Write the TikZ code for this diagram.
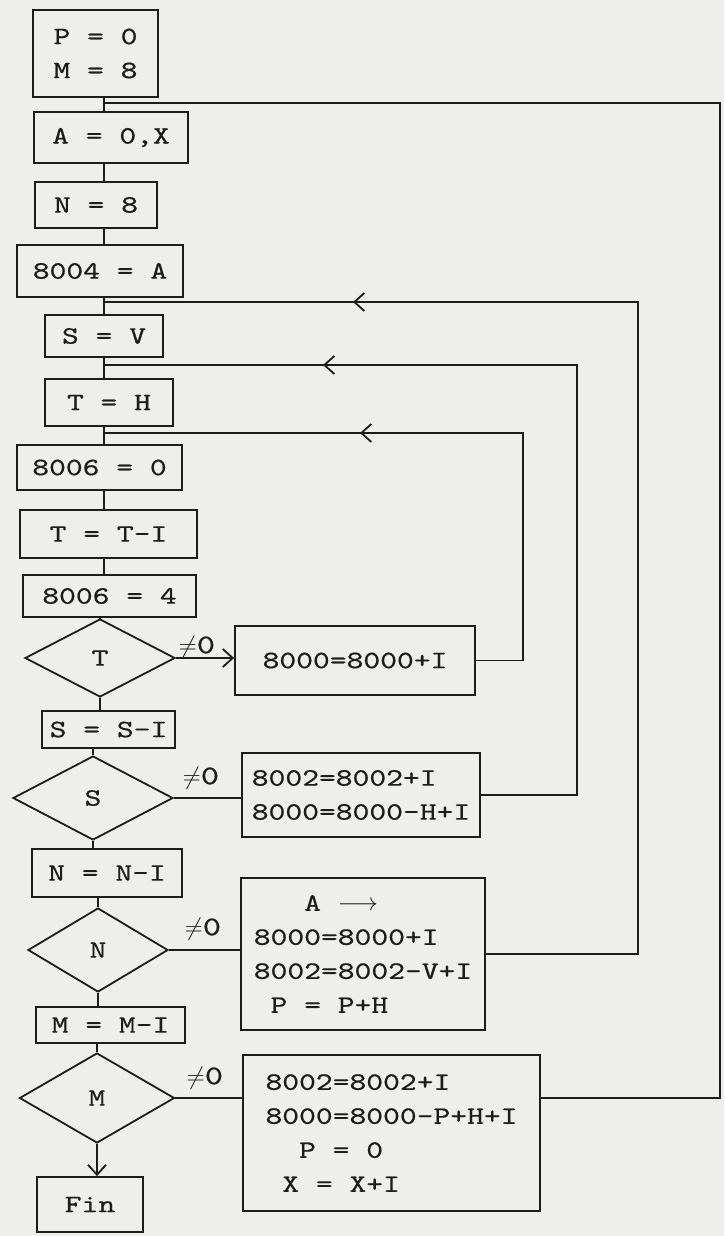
\documentclass[tikz,border=0pt]{standalone}
\usepackage{fontspec}
\setmonofont{lmmono10-regular.otf}[FakeStretch=1.28,FakeBold=0.6]
\usetikzlibrary{shapes.geometric,arrows.meta,decorations.markings}
\definecolor{paper}{RGB}{238,238,236}
\definecolor{ink}{RGB}{28,28,28}
\begin{document}
\begin{tikzpicture}[x=1pt,y=-1pt,
  every node/.style={font=\ttfamily\fontsize{25}{34}\selectfont, text=ink},
  box/.style={draw=ink, line width=1.8pt, inner sep=0pt, align=center},
  rbox/.style={draw=ink, line width=1.8pt, inner sep=0pt, align=left},
  dia/.style={draw=ink, line width=1.8pt, diamond, inner sep=0pt},
  conn/.style={draw=ink, line width=1.8pt},
  arr/.style={conn, -{Straight Barb[length=10pt,width=18pt]}},
  midarr/.style={postaction={decorate,decoration={markings,mark=at position #1 with {\arrow{Straight Barb[length=10pt,width=18pt]}}}}},
  lbl/.style={inner sep=0pt, font=\ttfamily\fontsize{27}{30}\selectfont}
]
\fill[paper] (0,0) rectangle (724,1236);
\useasboundingbox (0,0) rectangle (724,1236);

% main column
\node[box, minimum width=125, minimum height=87] (PM) at (95.5,53.5) {P = 0\\M = 8};
\node[box, minimum width=154, minimum height=51] (AX) at (111,137.5) {A = 0,X};
\node[box, minimum width=122, minimum height=46] (N8) at (96,205) {N = 8};
\node[box, minimum width=166, minimum height=52] (BA) at (100,271) {8004 = A};
\node[box, minimum width=118, minimum height=42] (SV) at (104,336) {S = V};
\node[box, minimum width=128, minimum height=47] (TH) at (109,402.5) {T = H};
\node[box, minimum width=165, minimum height=45] (BZ) at (99.5,467.5) {8006 = 0};
\node[box, minimum width=177, minimum height=48] (TTI) at (108.5,534) {T = T-I};
\node[box, minimum width=173, minimum height=42] (BF) at (109.5,596) {8006 = 4};
\node[dia, minimum width=150, minimum height=78] (T) at (100,658) {T};
\node[box, minimum width=133, minimum height=37] (SSI) at (108.5,729.5) {S = S-I};
\node[dia, minimum width=160, minimum height=84] (S) at (93,798) {S};
\node[box, minimum width=150, minimum height=48] (NNI) at (107,873) {N = N-I};
\node[dia, minimum width=140, minimum height=84] (N) at (98,950) {N};
\node[box, minimum width=149, minimum height=36] (MMI) at (110.5,1025) {M = M-I};
\node[dia, minimum width=155, minimum height=90] (M) at (97,1098) {M};
\node[box, minimum width=106, minimum height=55] (Fin) at (90,1204.5) {Fin};

% right boxes
\node[rbox, minimum width=240, minimum height=69] (R1) at (355,660.5) {8000=8000+I};
\node[rbox, minimum width=238, minimum height=84] (R2) at (361,795) {8002=8002+I\\8000=8000-H+I};
\node[rbox, minimum width=244, minimum height=152] (R3) at (363,954) {\hphantom{000}A~$\longrightarrow$\\8000=8000+I\\8002=8002-V+I\\\hphantom{0}P = P+H};
\node[rbox, minimum width=297, minimum height=156] (R4) at (391.5,1133) {8002=8002+I\\8000=8000-P+H+I\\\hphantom{00}P = 0\\\hphantom{0}X = X+I};

% labels
\node[lbl] (L1) at (197,647) {$\neq$0};
\node[lbl] (L2) at (201,778) {$\neq$0};
\node[lbl] (L3) at (203,929) {$\neq$0};
\node[lbl] (L4) at (205,1078) {$\neq$0};

% spine
\coordinate (sp) at (104,0);
\draw[conn] (PM.south -| sp) -- (AX.north -| sp);
\draw[conn] (AX.south -| sp) -- (N8.north -| sp);
\draw[conn] (N8.south -| sp) -- (BA.north -| sp);
\draw[conn] (BA.south -| sp) -- (SV.north -| sp);
\draw[conn] (SV.south -| sp) -- (TH.north -| sp);
\draw[conn] (TH.south -| sp) -- (BZ.north -| sp);
\draw[conn] (BZ.south -| sp) -- (TTI.north -| sp);
\draw[conn] (TTI.south -| sp) -- (BF.north -| sp);
\draw[conn] (BF.south -| T.north) -- (T.north);
\draw[conn] (T.south) -- (T.south |- SSI.north);
\draw[conn] (SSI.south -| S.north) -- (S.north);
\draw[conn] (S.south) -- (S.south |- NNI.north);
\draw[conn] (NNI.south -| N.north) -- (N.north);
\draw[conn] (N.south) -- (N.south |- MMI.north);
\draw[conn] (MMI.south -| M.north) -- (M.north);
\draw[arr] (M.south) -- (M.south |- Fin.north);

% branches
\draw[arr] (T.east) -- (T.east -| R1.west);
\draw[conn] (S.east) -- (S.east -| R2.west);
\draw[conn] (N.east) -- (N.east -| R3.west);
\draw[conn] (M.east) -- (M.east -| R4.west);

% loops
\coordinate (c1) at (523,433); \coordinate (j1) at (104,433);
\coordinate (c2) at (577,365); \coordinate (j2) at (104,365);
\coordinate (c3) at (638,302); \coordinate (j3) at (104,302);
\coordinate (c4) at (720,103); \coordinate (j4) at (104,103);
\draw[conn, line join=miter, midarr=-256pt] (R1.east) -- (R1.east -| c1) -- (c1) -- (j1);
\draw[conn, line join=miter, midarr=-219pt] (R2.east) -- (R2.east -| c2) -- (c2) -- (j2);
\draw[conn, line join=miter, midarr=-249pt] (R3.east) -- (R3.east -| c3) -- (c3) -- (j3);
\draw[conn, line join=miter] (R4.east |- M.east) -- (c4 |- M.east) -- (c4) -- (j4);
\end{tikzpicture}
\end{document}
